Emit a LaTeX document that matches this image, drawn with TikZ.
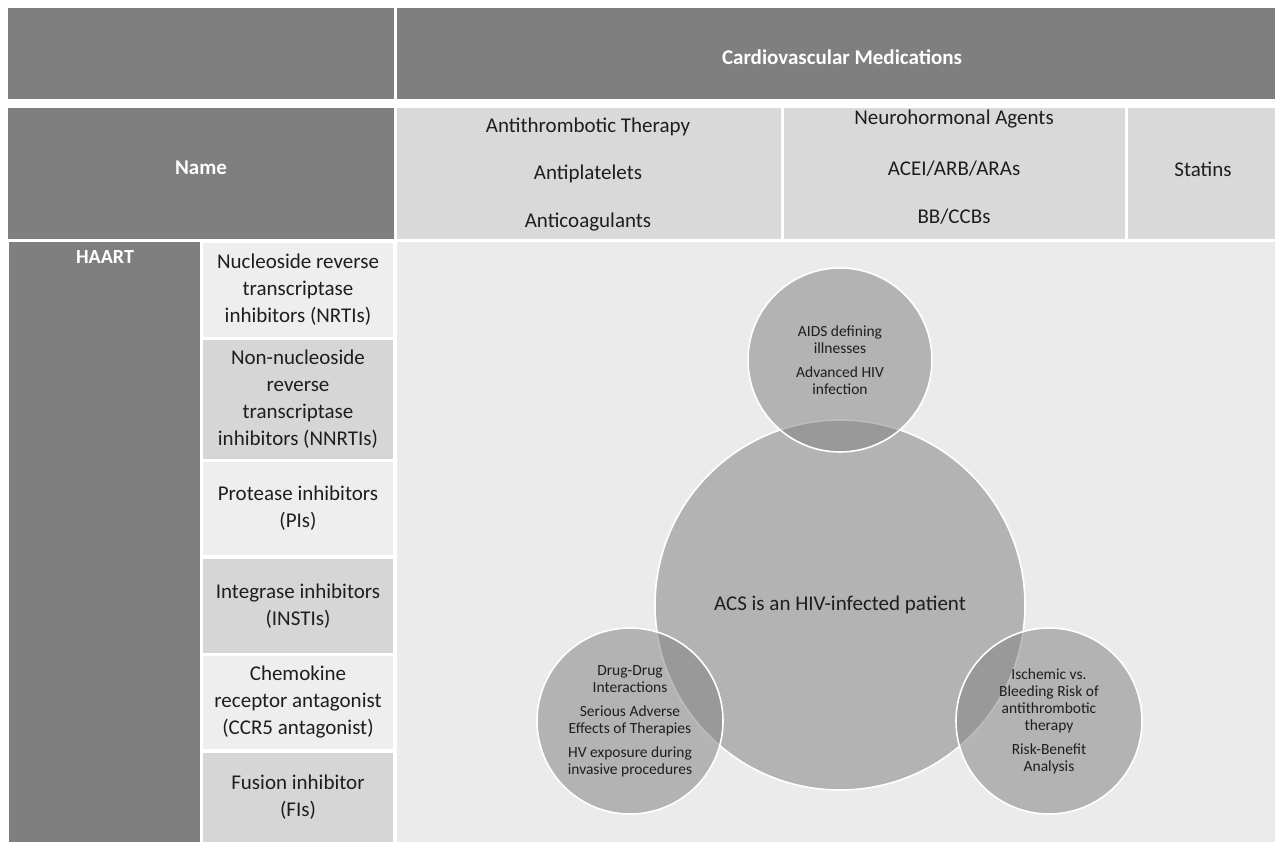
\documentclass[tikz,border=0pt]{standalone}
\usepackage{fontspec}
\setmainfont{Carlito}
\definecolor{hdr}{HTML}{7F7F7F}
\definecolor{rowtwo}{HTML}{D9D9D9}
\definecolor{druglt}{HTML}{EEEEEE}
\definecolor{drugdk}{HTML}{D6D6D6}
\definecolor{panel}{HTML}{EBEBEB}
\definecolor{bub}{HTML}{828282}
\definecolor{ink}{HTML}{1E1E1E}
\tikzset{
  cell/.style={rectangle, inner sep=0pt, outer sep=0pt, anchor=north west, draw=none},
  hdrtxt/.style={text=white, inner sep=0pt, font=\fontsize{21}{25}\selectfont\bfseries},
  lbl/.style={text=ink, inner sep=0pt, font=\fontsize{21}{27}\selectfont},
  drug/.style={cell, text=ink, align=center, font=\fontsize{21}{27}\selectfont},
  bubble/.style={circle, draw=white, line width=1.6pt, fill=bub, fill opacity=0.53,
    text opacity=1, text=ink, align=center, inner sep=0pt},
  small/.style={font=\fontsize{15.5}{17}\selectfont},
}
\begin{document}
\begin{tikzpicture}[x=1pt,y=-1pt]
\useasboundingbox (0,0) rectangle (1275,842);
\fill[white] (0,0) rectangle (1275,842);

% header rows
\node[cell, fill=hdr, minimum width=386pt, minimum height=91pt] (corner) at (8,8) {};
\node[cell, fill=hdr, minimum width=878pt, minimum height=91pt] (cvm) at (397,8) {};
\node[hdrtxt] (cvmtxt) at (842,57) {Cardiovascular Medications};

\node[cell, fill=hdr, minimum width=386pt, minimum height=131pt] (name) at (8,108) {};
\node[hdrtxt] (nametxt) at (201,168) {Name};

\node[cell, fill=rowtwo, minimum width=384pt, minimum height=131pt] (anti) at (397,108) {};
\node[lbl] (anti1) at (588,127) {Antithrombotic Therapy};
\node[lbl] (anti2) at (588,174) {Antiplatelets};
\node[lbl] (anti3) at (588,222) {Anticoagulants};

\node[cell, fill=rowtwo, minimum width=341pt, minimum height=131pt] (neuro) at (784,108) {};
\node[lbl] (neuro1) at (954,119) {Neurohormonal Agents};
\node[lbl] (neuro2) at (954,169) {ACEI/ARB/ARAs};
\node[lbl] (neuro3) at (954,217) {BB/CCBs};

\node[cell, fill=rowtwo, minimum width=147pt, minimum height=131pt] (stat) at (1128,108) {};
\node[lbl] (stattxt) at (1203,169) {Statins};

% lower area
\node[cell, fill=hdr, minimum width=191pt, minimum height=600pt] (haart) at (9,242) {};
\node[hdrtxt, font=\fontsize{20}{24}\selectfont\bfseries] (haarttxt) at (105,257) {HAART};

\node[cell, fill=panel, minimum width=878pt, minimum height=600pt] (panel) at (397,242) {};

\node[drug, fill=druglt, minimum width=190pt, minimum height=94pt] (nrti) at (203,243)
  {Nucleoside reverse\\transcriptase\\inhibitors (NRTIs)};
\node[drug, fill=drugdk, minimum width=190pt, minimum height=119pt] (nnrti) at (203,340)
  {Non-nucleoside\\reverse\\transcriptase\\inhibitors (NNRTIs)};
\node[drug, fill=druglt, minimum width=190pt, minimum height=93pt] (pi) at (203,462)
  {Protease inhibitors\\(PIs)};
\node[drug, fill=drugdk, minimum width=190pt, minimum height=94pt] (insti) at (203,559)
  {Integrase inhibitors\\(INSTIs)};
\node[drug, fill=druglt, minimum width=190pt, minimum height=93pt] (ccr5) at (203,656)
  {Chemokine\\receptor antagonist\\(CCR5 antagonist)};
\node[drug, fill=drugdk, minimum width=190pt, minimum height=89pt] (fi) at (203,753)
  {Fusion inhibitor\\(FIs)};

% bubbles
\node[bubble, minimum size=370pt, font=\fontsize{21}{25}\selectfont] (acs) at (840,605)
  {ACS is an HIV-infected patient};
\node[bubble, small, minimum size=184pt] (aids) at (840,360)
  {AIDS defining\\illnesses\\[7pt]Advanced HIV\\infection};
\node[bubble, small, minimum size=186pt] (ddi) at (630,721)
  {Drug-Drug\\Interactions\\[7pt]Serious Adverse\\Effects of Therapies\\[7pt]HV exposure during\\invasive procedures};
\node[bubble, small, minimum size=186pt] (risk) at (1049,721)
  {Ischemic vs.\\Bleeding Risk of\\antithrombotic\\therapy\\[7pt]Risk-Benefit\\Analysis};
\end{tikzpicture}
\end{document}
